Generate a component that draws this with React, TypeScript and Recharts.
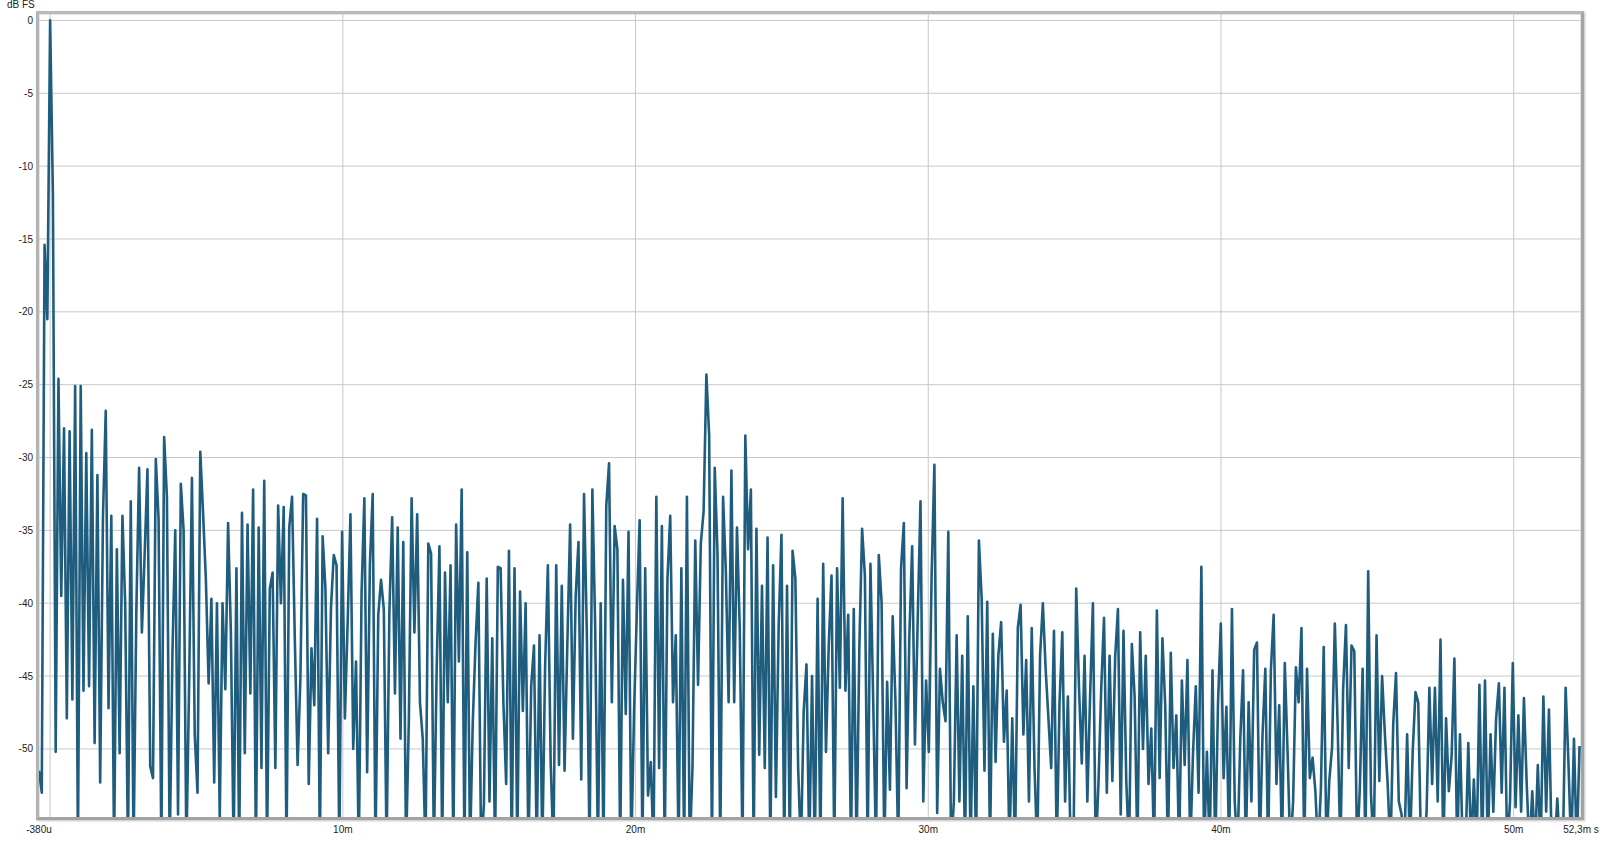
import { LineChart, Line, XAxis, YAxis, CartesianGrid } from "recharts";

// impulse response level, dB FS, one value every 0.095 ms starting at -0.38 ms
const T_START = -0.38;
const T_STEP = 0.095;

const SEG_0 = [
  -51.5, -53.0, -15.4, -20.5, 0, -12.0, -50.2, -24.6, -39.5, -28.0,
  -47.9, -28.2, -46.6, -25.1, -57, -25.1, -46.0, -29.7, -45.7, -28.1,
  -49.6, -31.2, -52.3, -34.1, -26.8, -47.2, -34.0, -57, -36.3, -50.3,
  -34.0, -40.1, -57, -33.0, -57, -40.6, -30.7, -42.0, -36.6, -30.8,
  -51.2, -52.0, -30.1, -34.2, -57, -28.6, -32.7, -57, -43.3, -35.0,
];
const SEG_1 = [
  -54.5, -31.8, -35.0, -57, -45.4, -31.4, -49.0, -53.0, -29.6, -33.8,
  -38.3, -45.5, -39.7, -52.3, -40.0, -54.7, -40.0, -45.9, -34.5, -42.0,
  -57, -37.6, -57, -33.8, -50.3, -34.6, -46.2, -32.2, -57, -34.8,
  -51.3, -31.6, -57, -39.0, -37.9, -51.3, -33.3, -40.0, -33.4, -57,
  -34.8, -32.7, -42.5, -51.1, -45.2, -32.5, -32.6, -52.4, -43.1, -47.0,
];
const SEG_2 = [
  -34.2, -57, -35.4, -39.0, -50.3, -40.3, -36.7, -37.4, -57, -35.1,
  -47.9, -41.3, -33.9, -50.0, -44.0, -57, -39.3, -32.8, -51.6, -37.3,
  -32.5, -57, -40.8, -38.4, -40.4, -57, -40.6, -34.1, -46.2, -34.8,
  -49.3, -35.8, -57, -48.1, -32.8, -42.0, -33.9, -46.8, -49.3, -57,
  -35.9, -36.6, -57, -44.6, -36.1, -57, -37.9, -46.8, -37.4, -57,
];
const SEG_3 = [
  -34.6, -44.0, -32.2, -57, -36.5, -57, -48.1, -42.7, -38.6, -57,
  -53.8, -38.3, -53.6, -42.4, -57, -37.5, -37.6, -46.8, -52.4, -36.4,
  -57, -37.6, -57, -39.2, -47.4, -40.0, -57, -45.7, -42.9, -57,
  -42.2, -57, -44.4, -37.4, -50.9, -57, -37.4, -51.1, -38.8, -51.5,
  -42.8, -34.6, -49.3, -39.5, -35.8, -52.1, -32.5, -41.9, -57, -32.2,
];
const SEG_4 = [
  -41.5, -57, -40.0, -57, -33.3, -30.4, -46.8, -34.7, -36.3, -57,
  -38.4, -47.6, -35.1, -57, -47.4, -40.5, -34.3, -57, -37.6, -53.2,
  -50.9, -57, -32.7, -51.3, -34.7, -57, -38.3, -34.0, -46.8, -42.2,
  -57, -37.6, -57, -32.7, -57, -51.3, -35.7, -45.6, -35.9, -33.7,
  -24.3, -28.5, -57, -30.7, -36.6, -57, -32.7, -37.8, -46.8, -30.9,
];
const SEG_5 = [
  -46.8, -34.8, -41.7, -57, -28.5, -36.3, -32.2, -57, -34.9, -50.4,
  -38.8, -51.3, -35.5, -57, -37.4, -53.3, -41.5, -35.3, -57, -38.8,
  -57, -36.4, -38.3, -51.3, -57, -47.4, -44.2, -57, -45.0, -57,
  -39.7, -57, -37.3, -50.2, -42.9, -38.1, -57, -37.6, -45.8, -32.8,
  -46.0, -40.8, -57, -40.4, -57, -43.1, -34.9, -38.1, -57, -37.3,
];
const SEG_6 = [
  -46.8, -57, -36.7, -39.9, -57, -45.4, -52.8, -40.9, -46.8, -57,
  -37.6, -34.5, -52.7, -42.2, -36.1, -49.7, -41.1, -33.0, -53.6, -45.3,
  -50.2, -38.1, -30.5, -54.4, -44.5, -46.8, -48.1, -35.1, -57, -53.6,
  -42.2, -53.6, -43.6, -57, -40.9, -57, -45.7, -57, -35.7, -39.7,
  -51.5, -39.9, -57, -42.1, -50.9, -43.6, -41.3, -49.5, -46.0, -57,
];
const SEG_7 = [
  -47.9, -57, -41.7, -40.1, -49.0, -43.9, -53.6, -41.7, -51.3, -57,
  -43.6, -40.0, -44.5, -47.9, -51.3, -41.9, -57, -46.8, -42.0, -53.6,
  -46.4, -57, -57, -39.0, -45.8, -51.0, -43.6, -53.6, -46.3, -40.0,
  -57, -52.4, -45.8, -41.0, -53.0, -43.6, -52.2, -43.7, -40.4, -54.5,
  -41.9, -52.2, -57, -42.8, -46.4, -57, -42.0, -50.0, -43.6, -52.4,
];
const SEG_8 = [
  -48.6, -57, -40.5, -52.0, -42.4, -47.0, -57, -43.4, -51.3, -47.7,
  -57, -45.3, -51.1, -43.9, -57, -50.3, -45.7, -53.0, -37.5, -57,
  -50.2, -57, -44.6, -57, -46.8, -41.4, -52.0, -47.1, -57, -40.4,
  -53.6, -57, -49.3, -44.6, -57, -46.8, -53.6, -43.2, -42.7, -57,
  -49.0, -44.5, -57, -44.6, -40.8, -52.4, -47.0, -57, -44.1, -50.2,
];
const SEG_9 = [
  -57, -53.6, -44.4, -46.8, -41.7, -57, -44.5, -52.0, -50.6, -52.9,
  -57, -52.7, -43.0, -57, -52.2, -49.9, -41.4, -48.3, -57, -45.8,
  -41.5, -51.3, -42.9, -43.3, -57, -52.7, -44.5, -57, -37.8, -53.1,
  -57, -42.2, -52.2, -45.0, -49.0, -52.4, -57, -48.3, -44.8, -53.6,
  -54.5, -57, -49.0, -57, -50.2, -46.1, -46.8, -57, -57, -54.3,
];
const SEG_10 = [
  -45.8, -52.4, -45.8, -53.6, -42.5, -57, -47.9, -52.9, -50.5, -43.8,
  -57, -49.0, -57, -57, -49.6, -57, -52.1, -57, -45.6, -57,
  -45.3, -57, -49.0, -54.3, -47.9, -45.5, -53.0, -45.8, -57, -53.6,
  -44.1, -54.0, -47.7, -54.3, -46.5, -52.4, -57, -52.9, -57, -51.1,
  -57, -46.4, -54.3, -47.3, -57, -57, -53.4, -57, -57, -45.8,
];
const SEG_11 = [-50.9, -57, -49.3, -57, -49.8];

const X_TICKS = [-0.38, 0, 10, 20, 30, 40, 50, 52.3];
const X_LABELS = ["-380u", "", "10m", "20m", "30m", "40m", "50m", "52,3m s"];
const Y_TICKS = [0, -5, -10, -15, -20, -25, -30, -35, -40, -45, -50];

const LEVELS = [
  ...SEG_0, ...SEG_1, ...SEG_2, ...SEG_3, ...SEG_4, ...SEG_5,
  ...SEG_6, ...SEG_7, ...SEG_8, ...SEG_9, ...SEG_10, ...SEG_11,
];

const data = LEVELS.map((db, i) => ({ t: T_START + i * T_STEP, db }));

const FONT = "'Liberation Sans', Arial, sans-serif";
const tickStyle = { fontSize: 10, fill: "#222", fontFamily: FONT };

export default function App() {
  return (
    <div style={{ position: "absolute", left: 0, top: 0, width: 1600, height: 841, background: "#fff" }}>
      <LineChart width={1600} height={841} data={data} margin={{ top: 14, right: 19, bottom: 0, left: 0 }}>
        <CartesianGrid stroke="#c8c8c8" strokeWidth={1} />
        <XAxis
          dataKey="t"
          type="number"
          domain={[-0.38, 52.3]}
          allowDataOverflow
          ticks={X_TICKS}
          interval={0}
          tickFormatter={(v: number) => X_LABELS[X_TICKS.indexOf(v)] ?? ""}
          tickLine={false}
          axisLine={false}
          tickSize={0}
          tickMargin={8}
          height={23}
          tick={tickStyle}
        />
        <YAxis
          type="number"
          domain={[-54.74, 0.44]}
          allowDataOverflow
          ticks={Y_TICKS}
          interval={0}
          tickLine={false}
          axisLine={false}
          tickSize={0}
          tickMargin={6}
          width={39}
          tick={tickStyle}
        />
        <Line
          type="linear"
          dataKey="db"
          stroke="#1f5d7f"
          strokeWidth={2.6}
          strokeLinejoin="round"
          dot={false}
          activeDot={false}
          isAnimationActive={false}
        />
      </LineChart>
      {/* plot frame */}
      <div
        style={{
          position: "absolute",
          left: 36,
          top: 11,
          width: 1548,
          height: 809,
          boxSizing: "border-box",
          borderTop: "3px solid #b9b9b9",
          borderLeft: "3px solid #b3b3b3",
          borderRight: "3px solid #a3a3a3",
          borderBottom: "3px solid #a3a3a3",
          boxShadow: "1px 1px 2px rgba(0,0,0,0.25)",
          pointerEvents: "none",
        }}
      />
      <div style={{ position: "absolute", left: 7, top: -1, fontSize: 10, fontFamily: FONT, color: "#222" }}>dB FS</div>
    </div>
  );
}
